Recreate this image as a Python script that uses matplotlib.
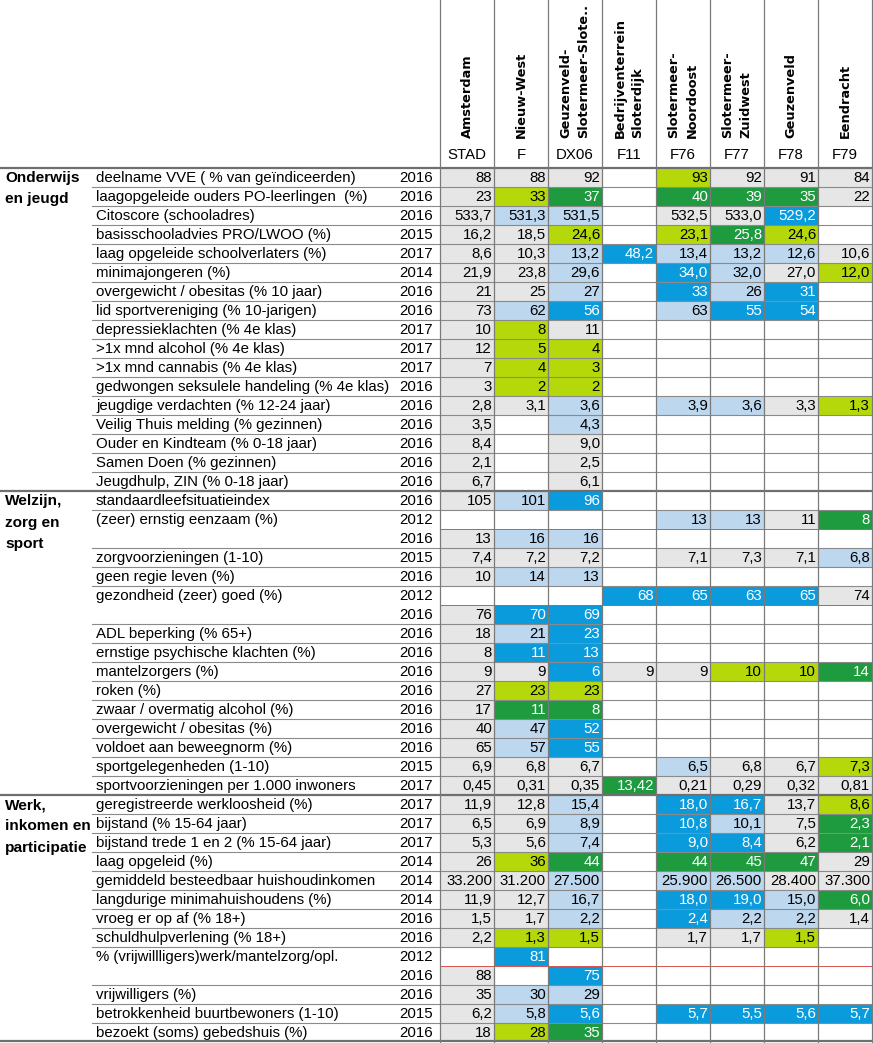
import matplotlib.pyplot as plt

# kolommen
namen = ["Amsterdam", "Nieuw-West", "Geuzenveld-\nSlotermeer-Slote..",
         "Bedrijventerrein\nSloterdijk", "Slotermeer-\nNoordoost",
         "Slotermeer-\nZuidwest", "Geuzenveld", "Eendracht"]
codes = ["STAD", "F", "DX06", "F11", "F76", "F77", "F78", "F79"]

# thema's: (titel, eerste rij)
themas = [("Onderwijs\nen jeugd", 0),
          ("Welzijn,\nzorg en\nsport", 17),
          ("Werk,\ninkomen en\nparticipatie", 33)]

labels = [
    "deelname VVE ( % van geïndiceerden)",
    "laagopgeleide ouders PO-leerlingen  (%)",
    "Citoscore (schooladres)",
    "basisschooladvies PRO/LWOO (%)",
    "laag opgeleide schoolverlaters (%)",
    "minimajongeren (%)",
    "overgewicht / obesitas (% 10 jaar)",
    "lid sportvereniging (% 10-jarigen)",
    "depressieklachten (% 4e klas)",
    ">1x mnd alcohol (% 4e klas)",
    ">1x mnd cannabis (% 4e klas)",
    "gedwongen seksulele handeling (% 4e klas)",
    "jeugdige verdachten (% 12-24 jaar)",
    "Veilig Thuis melding (% gezinnen)",
    "Ouder en Kindteam (% 0-18 jaar)",
    "Samen Doen (% gezinnen)",
    "Jeugdhulp, ZIN (% 0-18 jaar)",
    "standaardleefsituatieindex",
    "(zeer) ernstig eenzaam (%)",
    "",
    "zorgvoorzieningen (1-10)",
    "geen regie leven (%)",
    "gezondheid (zeer) goed (%)",
    "",
    "ADL beperking (% 65+)",
    "ernstige psychische klachten (%)",
    "mantelzorgers (%)",
    "roken (%)",
    "zwaar / overmatig alcohol (%)",
    "overgewicht / obesitas (%)",
    "voldoet aan beweegnorm (%)",
    "sportgelegenheden (1-10)",
    "sportvoorzieningen per 1.000 inwoners",
    "geregistreerde werkloosheid (%)",
    "bijstand (% 15-64 jaar)",
    "bijstand trede 1 en 2 (% 15-64 jaar)",
    "laag opgeleid (%)",
    "gemiddeld besteedbaar huishoudinkomen",
    "langdurige minimahuishoudens (%)",
    "vroeg er op af (% 18+)",
    "schuldhulpverlening (% 18+)",
    "% (vrijwillligers)werk/mantelzorg/opl.",
    "",
    "vrijwilligers (%)",
    "betrokkenheid buurtbewoners (1-10)",
    "bezoekt (soms) gebedshuis (%)",
]

jaren = [2016, 2016, 2016, 2015, 2017, 2014, 2016, 2016, 2017, 2017, 2017, 2016,
         2016, 2016, 2016, 2016, 2016,
         2016, 2012, 2016, 2015, 2016, 2012, 2016, 2016, 2016, 2016, 2016, 2016,
         2016, 2016, 2015, 2017,
         2017, 2017, 2017, 2014, 2014, 2014, 2016, 2016, 2012, 2016, 2016, 2015, 2016]

# rijen met een tweede meting (rode lijn eronder)
dubbel = [18, 22, 41]

stad = ["88", "23", "533,7", "16,2", "8,6", "21,9", "21", "73", "10", "12", "7", "3",
        "2,8", "3,5", "8,4", "2,1", "6,7",
        "105", "", "13", "7,4", "10", "", "76", "18", "8", "9", "27", "17", "40", "65",
        "6,9", "0,45",
        "11,9", "6,5", "5,3", "26", "33.200", "11,9", "1,5", "2,2", "", "88", "35", "6,2", "18"]
f = ["88", "33", "531,3", "18,5", "10,3", "23,8", "25", "62", "8", "5", "4", "2",
     "3,1", "", "", "", "",
     "101", "", "16", "7,2", "14", "", "70", "21", "11", "9", "23", "11", "47", "57",
     "6,8", "0,31",
     "12,8", "6,9", "5,6", "36", "31.200", "12,7", "1,7", "1,3", "81", "", "30", "5,8", "28"]
dx06 = ["92", "37", "531,5", "24,6", "13,2", "29,6", "27", "56", "11", "4", "3", "2",
        "3,6", "4,3", "9,0", "2,5", "6,1",
        "96", "", "16", "7,2", "13", "", "69", "23", "13", "6", "23", "8", "52", "55",
        "6,7", "0,35",
        "15,4", "8,9", "7,4", "44", "27.500", "16,7", "2,2", "1,5", "", "75", "29", "5,6", "35"]
f11 = ["", "", "", "", "48,2", "", "", "", "", "", "", "", "", "", "", "", "",
       "", "", "", "", "", "68", "", "", "", "9", "", "", "", "", "", "13,42",
       "", "", "", "", "", "", "", "", "", "", "", "", ""]
f76 = ["93", "40", "532,5", "23,1", "13,4", "34,0", "33", "63", "", "", "", "",
       "3,9", "", "", "", "",
       "", "13", "", "7,1", "", "65", "", "", "", "9", "", "", "", "", "6,5", "0,21",
       "18,0", "10,8", "9,0", "44", "25.900", "18,0", "2,4", "1,7", "", "", "", "5,7", ""]
f77 = ["92", "39", "533,0", "25,8", "13,2", "32,0", "26", "55", "", "", "", "",
       "3,6", "", "", "", "",
       "", "13", "", "7,3", "", "63", "", "", "", "10", "", "", "", "", "6,8", "0,29",
       "16,7", "10,1", "8,4", "45", "26.500", "19,0", "2,2", "1,7", "", "", "", "5,5", ""]
f78 = ["91", "35", "529,2", "24,6", "12,6", "27,0", "31", "54", "", "", "", "",
       "3,3", "", "", "", "",
       "", "11", "", "7,1", "", "65", "", "", "", "10", "", "", "", "", "6,7", "0,32",
       "13,7", "7,5", "6,2", "47", "28.400", "15,0", "2,2", "1,5", "", "", "", "5,6", ""]
f79 = ["84", "22", "", "", "10,6", "12,0", "", "", "", "", "", "",
       "1,3", "", "", "", "",
       "", "8", "", "6,8", "", "74", "", "", "", "14", "", "", "", "", "7,3", "0,81",
       "8,6", "2,3", "2,1", "29", "37.300", "6,0", "1,4", "", "", "", "", "5,7", ""]

# klasse per cel: G gemiddeld, L/B ongunstig, Y/D gunstig, - leeg
klasse_stad = "GGGGGGGGGGGGGGGGG" + "G-GGG-GGGGGGGGGG" + "GGGGGGGG-GGGG"
klasse_f    = "GYLGGGGLYYYYG----" + "L-LGL-BLBGYDLLGG" + "GGGYGGGYB-LLY"
klasse_dx06 = "GDLYLLLBGYYYLLGGG" + "B-LGL-BBBBYDBBGG" + "LLLDLLLY-BLBD"
klasse_f11  = "----B------------" + "-----B---G-----D" + "-------------"
klasse_f76  = "YDGYLBBL----L----" + "-L-G-B---G----LG" + "BBBDLBBG---B-"
klasse_f77  = "GDGDLLLB----L----" + "-L-G-B---Y----GG" + "BLBDLBLG---B-"
klasse_f78  = "GDBYLGBB----G----" + "-G-G-B---Y----GG" + "GGGDGLLY---B-"
klasse_f79  = "GG--GY------Y----" + "-D-L-G---D----YG" + "YDDGGDG----B-"

kolommen = [stad, f, dx06, f11, f76, f77, f78, f79]
klassen = [klasse_stad, klasse_f, klasse_dx06, klasse_f11,
           klasse_f76, klasse_f77, klasse_f78, klasse_f79]

kleur = {"G": "#e6e6e6", "L": "#bdd7ee", "B": "#0a9bdc", "Y": "#b4d80a", "D": "#1e9b3e"}
tekstkleur = {"G": "black", "L": "black", "B": "white", "Y": "black", "D": "white", "-": "black"}

W, H = 873, 1043
kop = 168
rij_h = 19
x0 = 440
kol_w = 54
font = "Liberation Sans"
fs = 10.8

fig = plt.figure(figsize=(W / 100, H / 100), dpi=100)
ax = fig.add_axes([0, 0, 1, 1])
ax.set_xlim(0, W)
ax.set_ylim(H, 0)
ax.axis("off")

n = len(labels)

# cellen
for k, (waarden, kl) in enumerate(zip(kolommen, klassen)):
    xl = x0 + k * kol_w
    for i in range(n):
        y = kop + i * rij_h
        c = kl[i]
        if c != "-":
            ax.add_patch(plt.Rectangle((xl, y), kol_w, rij_h, facecolor=kleur[c],
                                       edgecolor="none", zorder=1))
        if waarden[i]:
            ax.text(xl + kol_w - 2, y + rij_h / 2 + 0.5, waarden[i], ha="right", va="center",
                    fontsize=fs, family=font, color=tekstkleur[c], zorder=3)

# labels en jaren
for i in range(n):
    yc = kop + i * rij_h + rij_h / 2 + 0.5
    if labels[i]:
        ax.text(96, yc, labels[i], ha="left", va="center", fontsize=fs, family=font)
    ax.text(433, yc, str(jaren[i]), ha="right", va="center", fontsize=fs, family=font)

# horizontale lijnen
for i in range(1, n):
    y = kop + i * rij_h
    if i - 1 in dubbel:
        ax.plot([x0, W], [y, y], color="#d9534f", lw=0.7, zorder=2)
    elif i not in [t[1] for t in themas]:
        ax.plot([92, W], [y, y], color="#8a8a8a", lw=0.8, zorder=2)

for titel, start in themas:
    y = kop + start * rij_h
    ax.plot([0, W], [y, y], color="#6f6f6f", lw=1.6, zorder=4)
    for j, regel in enumerate(titel.split("\n")):
        ax.text(5, y + rij_h / 2 + 0.5 + j * 21.5, regel, ha="left", va="center",
                fontsize=fs + 0.3, family=font, fontweight="bold")
ax.plot([0, W], [kop + n * rij_h - 1, kop + n * rij_h - 1], color="#6f6f6f", lw=1.6, zorder=4)

# verticale lijnen
for k in range(len(kolommen) + 1):
    x = x0 + k * kol_w
    ax.plot([x, x], [0, H], color="#7a7a7a", lw=0.9, zorder=4)

# kop
for k, (naam, code) in enumerate(zip(namen, codes)):
    xc = x0 + k * kol_w + kol_w / 2
    ax.text(xc, 138, naam, rotation=90, ha="center", va="bottom", fontsize=9.3,
            family="DejaVu Sans", fontweight="bold", linespacing=1.5,
            multialignment="left", zorder=5)
    ax.text(xc, 155, code, ha="center", va="center", fontsize=fs, family=font)

fig.savefig("out.png", dpi=100)
